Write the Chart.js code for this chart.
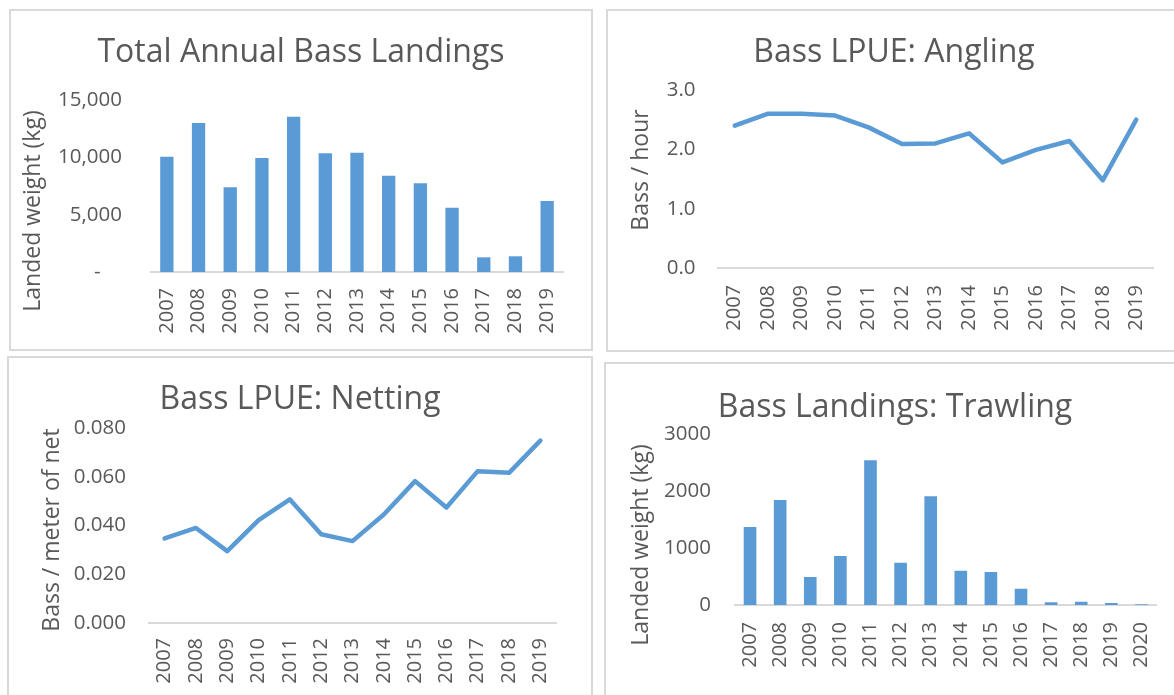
<!DOCTYPE html>
<html>
<head>
<meta charset="utf-8">
<script src="https://cdn.jsdelivr.net/npm/chart.js@4/dist/chart.umd.min.js"></script>
<style>
  body { margin: 0; background: #fff; width: 1174px; height: 695px; overflow: hidden; position: relative; }
  .panel { position: absolute; border: 2px solid #d9d9d9; box-sizing: border-box; }
  canvas { position: absolute; }
</style>
</head>
<body>
<div class="panel" style="left:9px;top:9px;width:584px;height:342px"></div>
<div class="panel" style="left:606px;top:9px;width:580px;height:343px"></div>
<div class="panel" style="left:7px;top:356px;width:586px;height:350px"></div>
<div class="panel" style="left:604px;top:362px;width:580px;height:350px"></div>

<canvas id="c1" width="584" height="338" style="left:9px;top:10px"></canvas>
<canvas id="c2" width="578" height="341" style="left:605px;top:10px"></canvas>
<canvas id="c3" width="586" height="338" style="left:7px;top:357px"></canvas>
<canvas id="c4" width="584" height="332" style="left:603px;top:363px"></canvas>

<script>
const years = ['2007', '2008', '2009', '2010', '2011', '2012', '2013', '2014', '2015', '2016', '2017', '2018', '2019'];
const trawlYears = ['2007', '2008', '2009', '2010', '2011', '2012', '2013', '2014', '2015', '2016', '2017', '2018', '2019', '2020'];

// kg landed per year
const totalLandings = [10050, 13000, 7400, 9950, 13550, 10350, 10400, 8400, 7750, 5600, 1280, 1370, 6200];
const trawlLandings = [1370, 1840, 490, 860, 2540, 740, 1910, 600, 580, 285, 50, 55, 35, 15];

// landings per unit effort
const anglingLpue = [2.40, 2.60, 2.60, 2.57, 2.37, 2.09, 2.10, 2.27, 1.78, 1.99, 2.14, 1.48, 2.50];
const nettingLpue = [0.0347, 0.0390, 0.0295, 0.0422, 0.0507, 0.0364, 0.0336, 0.0445, 0.0582, 0.0474, 0.0623, 0.0616, 0.0748];

const BLUE = '#5b9bd5';
const GREY = '#595959';
const FONT = '"Open Sans", sans-serif';

// rotated y-axis title, placed like Excel does it
const sideTitle = {
    id: 'sideTitle',
    afterDraw(chart, args, opts) {
        const ctx = chart.ctx;
        ctx.save();
        ctx.translate(opts.x, opts.y);
        ctx.rotate(-Math.PI / 2);
        ctx.font = '23px ' + FONT;
        ctx.fillStyle = GREY;
        ctx.textAlign = 'center';
        ctx.textBaseline = 'middle';
        ctx.fillText(opts.text, 0, 0);
        ctx.restore();
    }
};

function makeChart(id, cfg) {
    const isBar = cfg.type === 'bar';
    const dataset = isBar
        ? { data: cfg.values, backgroundColor: BLUE, barPercentage: 0.42, categoryPercentage: 1 }
        : { data: cfg.values, borderColor: BLUE, borderWidth: 4.5, pointRadius: 0, tension: 0,
            borderJoinStyle: 'round', borderCapStyle: 'round', fill: false };

    return new Chart(document.getElementById(id), {
        type: cfg.type,
        data: { labels: cfg.labels, datasets: [dataset] },
        plugins: [sideTitle],
        options: {
            responsive: false,
            animation: false,
            events: [],
            // equal side padding keeps the title centred over the plot like Excel
            layout: { padding: { left: cfg.side, top: 0, bottom: 0, right: cfg.side } },
            plugins: {
                legend: { display: false },
                tooltip: { enabled: false },
                title: {
                    display: true,
                    text: cfg.title,
                    color: GREY,
                    font: { family: FONT, size: 32, weight: 'normal' },
                    padding: { top: cfg.titleTop, bottom: cfg.titleBottom }
                },
                sideTitle: { text: cfg.yTitle, x: cfg.yTitleX, y: cfg.yTitleY }
            },
            scales: {
                x: {
                    offset: true,
                    grid: { display: false, drawTicks: false },
                    border: { display: true, color: '#d9d9d9', width: 2 },
                    ticks: { color: GREY, font: { family: FONT, size: 20 }, minRotation: 90, maxRotation: 90,
                             padding: cfg.xPad, autoSkip: false },
                    afterFit: s => { s.height = cfg.xHeight; }
                },
                y: {
                    min: cfg.min, max: cfg.max,
                    grid: { display: false, drawTicks: false },
                    border: { display: false },
                    ticks: { color: GREY, font: { family: FONT, size: 20.5 }, stepSize: cfg.step,
                             padding: cfg.yPad, callback: cfg.fmt },
                    afterFit: s => { s.width = cfg.yWidth; }
                }
            }
        }
    });
}

makeChart('c1', {
    type: 'bar', labels: years, values: totalLandings,
    title: 'Total Annual Bass Landings', yTitle: 'Landed weight (kg)',
    min: 0, max: 15000, step: 5000,
    fmt: v => v === 0 ? '-    ' : v.toLocaleString('en-US'),
    side: 30, titleTop: 23.2, titleBottom: 28.4, xHeight: 76, xPad: 16, yWidth: 112, yPad: 29,
    yTitleX: 24, yTitleY: 201
});

makeChart('c2', {
    type: 'line', labels: years, values: anglingLpue,
    title: 'Bass LPUE: Angling', yTitle: 'Bass / hour',
    min: 0, max: 3, step: 1,
    fmt: v => v.toFixed(1),
    side: 30, titleTop: 23.2, titleBottom: 18.4, xHeight: 83, xPad: 17, yWidth: 83, yPad: 22.5,
    yTitleX: 36, yTitleY: 160
});

makeChart('c3', {
    type: 'line', labels: years, values: nettingLpue,
    title: 'Bass LPUE: Netting', yTitle: 'Bass / meter of net',
    min: 0, max: 0.08, step: 0.02,
    fmt: v => v.toFixed(3),
    side: 37, titleTop: 23.2, titleBottom: 9.4, xHeight: 72, xPad: 15, yWidth: 105, yPad: 23,
    yTitleX: 45, yTitleY: 173
});

makeChart('c4', {
    type: 'bar', labels: trawlYears, values: trawlLandings,
    title: 'Bass Landings: Trawling', yTitle: 'Landed weight (kg)',
    min: 0, max: 3000, step: 1000,
    fmt: v => String(v),
    side: 30.5, titleTop: 25.2, titleBottom: 7.4, xHeight: 90, xPad: 17, yWidth: 101.5, yPad: 24,
    yTitleX: 38, yTitleY: 182
});
</script>
</body>
</html>
